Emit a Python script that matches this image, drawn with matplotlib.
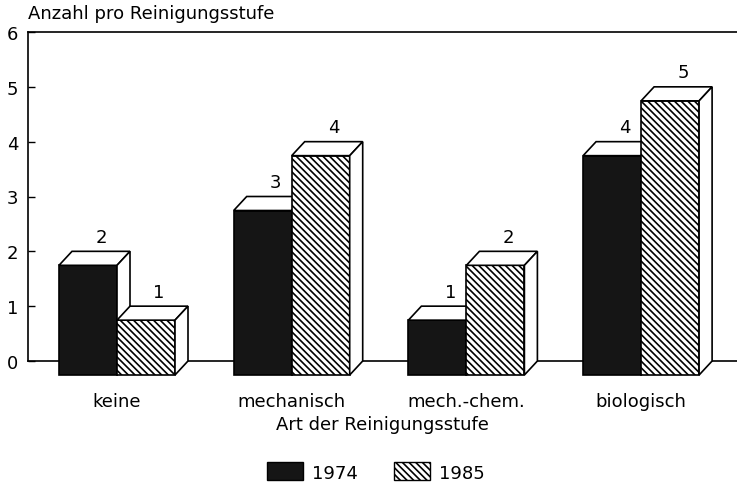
import matplotlib.pyplot as plt
from matplotlib.patches import Polygon, Patch

plt.rcParams['font.family'] = ['DejaVu Sans']
plt.rcParams['hatch.linewidth'] = 1.2

# data
categories = ['keine', 'mechanisch', 'mech.-chem.', 'biologisch']
years = ['1974', '1985']
values_1974 = [2, 3, 1, 4]
values_1985 = [1, 4, 2, 5]

FS = 13
HATCH = '\\' * 5

W, H = 737, 489
fig = plt.figure(figsize=(W / 100, H / 100), dpi=100)
ax_l, ax_r, ax_t, ax_b = 28, 737, 33, 362
ax = fig.add_axes([ax_l / W, (H - ax_b) / H, (ax_r - ax_l) / W, (ax_b - ax_t) / H])

# group spacing in px -> data units
group_px = 174.7
first_px = 130
ax.set_xlim((ax_l - first_px) / group_px, (ax_r - first_px) / group_px)
ax.set_ylim(0, 6)

bar_w = 58 / group_px
dx = 13 / group_px                  # depth offset (x)
dy = 14 / ((ax_b - ax_t) / 6)       # depth offset (y)


def box(x0, v, face, hatch=None):
    # front face
    front = Polygon([(x0 - dx, -dy), (x0 + bar_w - dx, -dy),
                     (x0 + bar_w - dx, v - dy), (x0 - dx, v - dy)],
                    closed=True, facecolor=face, edgecolor='black',
                    linewidth=1.2, hatch=hatch, clip_on=False, zorder=3)
    top = Polygon([(x0 - dx, v - dy), (x0 + bar_w - dx, v - dy),
                   (x0 + bar_w, v), (x0, v)],
                  closed=True, facecolor='white', edgecolor='black',
                  linewidth=1.2, clip_on=False, zorder=3)
    side = Polygon([(x0 + bar_w - dx, -dy), (x0 + bar_w - dx, v - dy),
                    (x0 + bar_w, v), (x0 + bar_w, 0)],
                   closed=True, facecolor='white', edgecolor='black',
                   linewidth=1.2, clip_on=False, zorder=3)
    for p in (front, top, side):
        ax.add_patch(p)
    ax.annotate(str(v), (x0 + bar_w / 2, v), xytext=(0, 4),
                textcoords='offset points', ha='center', va='bottom',
                fontsize=FS, annotation_clip=False)


for i in range(len(categories)):
    box(i - bar_w, values_1974[i], '#151515')
    box(i, values_1985[i], 'white', hatch=HATCH)

ax.spines['right'].set_visible(False)
for s in ('left', 'top', 'bottom'):
    ax.spines[s].set_linewidth(1.2)
    ax.spines[s].set_zorder(1)

ax.set_yticks(range(0, 7))
ax.tick_params(axis='y', direction='in', length=5, width=1, labelsize=FS, pad=7)
ax.set_xticks([i - dx for i in range(len(categories))])
ax.set_xticklabels(categories, fontsize=FS)
ax.tick_params(axis='x', length=0, pad=22)
ax.set_xlabel('Art der Reinigungsstufe', fontsize=FS, labelpad=4)

fig.text(ax_l / W, 1 - 14 / H, 'Anzahl pro Reinigungsstufe', fontsize=FS,
         ha='left', va='center')

handles = [Patch(facecolor='#151515', edgecolor='black'),
           Patch(facecolor='white', edgecolor='black', hatch=HATCH)]
fig.legend(handles, years, loc='center', bbox_to_anchor=(376 / W, 1 - 473 / H),
           ncol=2, frameon=False, fontsize=FS, handlelength=2.0,
           handleheight=1.15, handletextpad=0.5, columnspacing=2.0)

fig.savefig('out.png', dpi=100)
